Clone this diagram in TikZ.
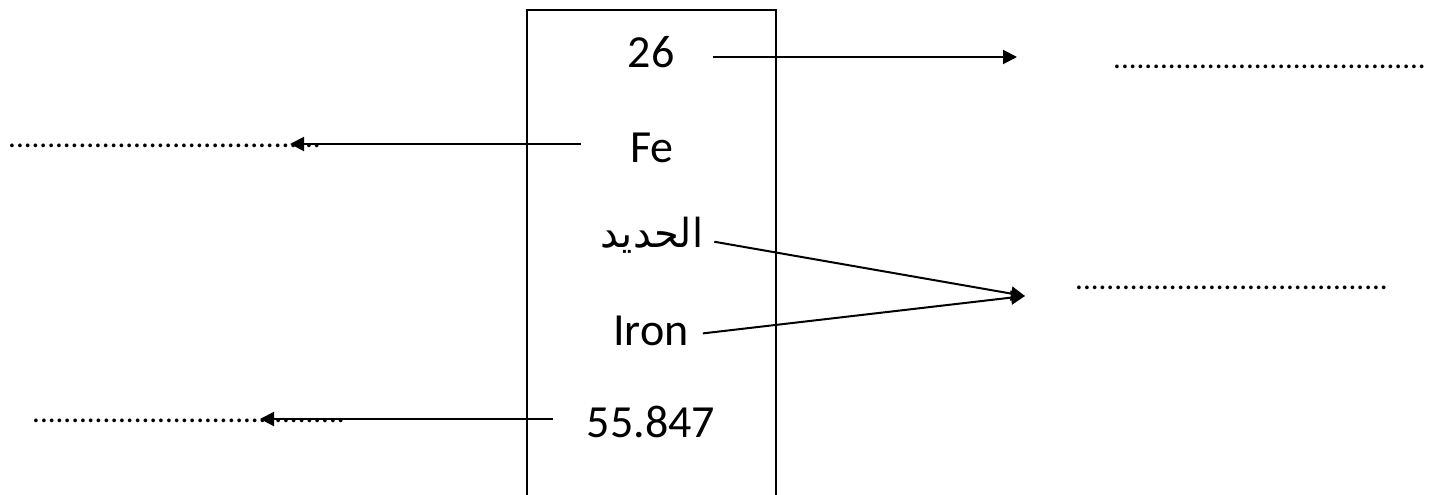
\documentclass[tikz,border=0pt]{standalone}
\usepackage{fontspec}
\setmainfont{Carlito}
\newfontfamily\arabicfont[Script=Arabic]{DejaVu Sans}
\TeXXeTstate=1
\usetikzlibrary{arrows.meta}

\begin{document}
\begin{tikzpicture}[
  x=1pt, y=-1pt,
  >={Triangle[length=14pt, width=14pt]},
  arr/.style={->, line width=2pt, black},
]

% =============================================
% Styles
% =============================================
\tikzset{
  entry/.style={font=\fontsize{46}{50}\selectfont, inner sep=0pt, anchor=base},
  blank/.style={font=\fontsize{31}{36}\selectfont, inner sep=0pt, anchor=base west},
}

\useasboundingbox (0,0) rectangle (1435,495);
\clip (0,0) rectangle (1435,495);

% =============================================
% Element card (open at the bottom)
% =============================================
\draw[line width=1.5pt] (527,505) |- (776,10) -- (776,505);

% =============================================
% Card entries
% =============================================
\node[entry] (znum) at (651,67) {26};
\node[entry] (sym) at (652,162) {Fe};
\node[entry] (arname) at (652,247) {\arabicfont\fontsize{40}{46}\selectfont\beginR الحديد\endR};
\node[entry] (enname) at (651,345) {Iron};
\node[entry] (mass) at (651,437) {55.847};

% =============================================
% Answer blanks
% =============================================
\node[blank] (blankz) at (1113,69) {........................................};
\node[blank] (blanksym) at (8,147) {........................................};
\node[blank] (blankname) at (1075,289) {........................................};
\node[blank] (blankmass) at (32,422) {........................................};

% arrow tips
\coordinate (tipz) at (1017,57);
\coordinate (tipsym) at (290,144);
\coordinate (tipname) at (1025,296);
\coordinate (tipmass) at (260,419);

% =============================================
% Arrows
% =============================================
\draw[arr] ([xshift=38pt]znum.east |- tipz) -- (tipz);
\draw[arr] ([xshift=-49pt]sym.west |- tipsym) -- (tipsym);
\draw[arr] ([xshift=11pt, yshift=-7pt]arname.east) -- (tipname);
\draw[arr] ([xshift=14pt, yshift=-3pt]enname.east) -- (tipname);
\draw[arr] ([xshift=-34pt]mass.west |- tipmass) -- (tipmass);

\end{tikzpicture}
\end{document}
